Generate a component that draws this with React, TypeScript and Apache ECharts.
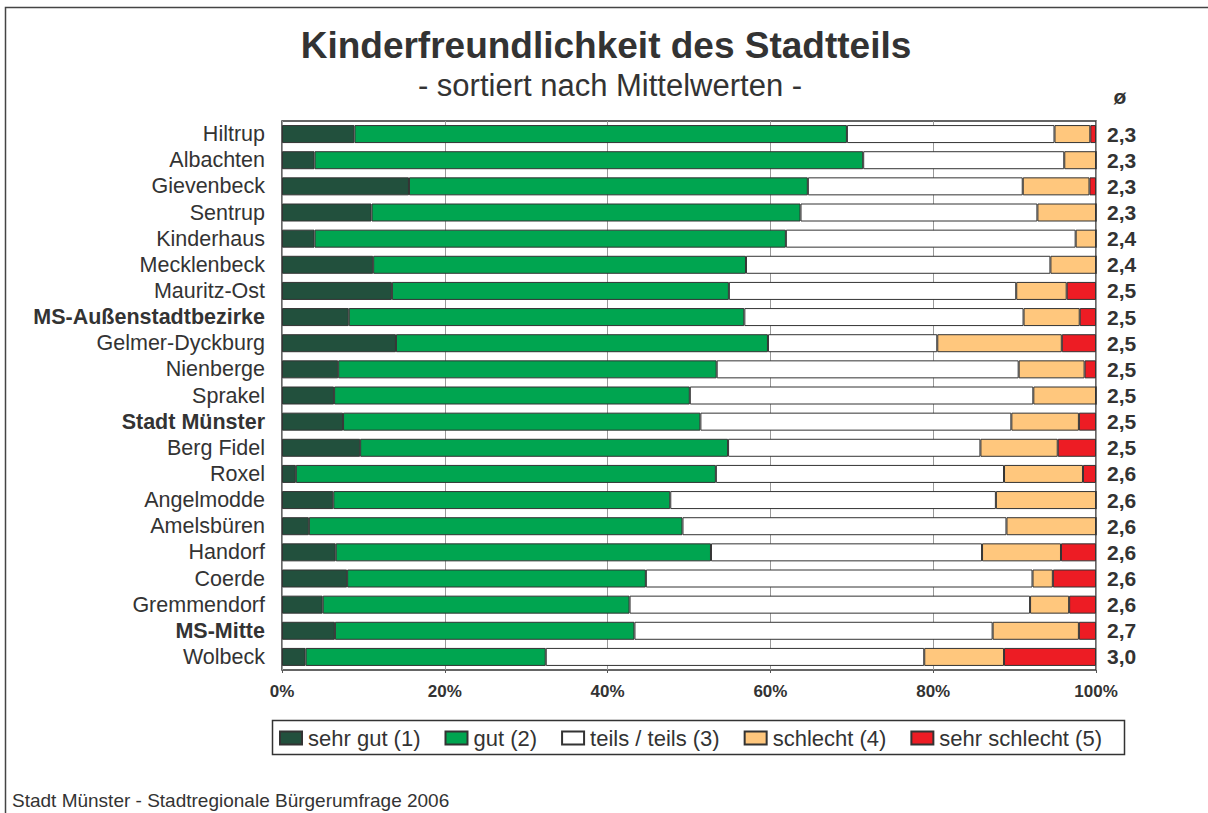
import React, { useEffect, useRef } from "react";
import * as echarts from "echarts";

const categories = [
  "Hiltrup", "Albachten", "Gievenbeck", "Sentrup", "Kinderhaus", "Mecklenbeck",
  "Mauritz-Ost", "MS-Außenstadtbezirke", "Gelmer-Dyckburg", "Nienberge", "Sprakel",
  "Stadt Münster", "Berg Fidel", "Roxel", "Angelmodde", "Amelsbüren", "Handorf",
  "Coerde", "Gremmendorf", "MS-Mitte", "Wolbeck",
];
const boldCategories = ["MS-Außenstadtbezirke", "Stadt Münster", "MS-Mitte"];

const sehrGut = [8.9, 4.0, 15.6, 11.0, 4.0, 11.2, 13.5, 8.2, 14.0, 6.9, 6.4, 7.5, 9.6, 1.7, 6.3, 3.3, 6.6, 8.0, 5.0, 6.5, 2.9];
const gut = [60.5, 67.4, 49.0, 52.7, 57.9, 45.8, 41.4, 48.6, 45.7, 46.5, 43.7, 43.9, 45.2, 51.6, 41.4, 45.9, 46.1, 36.7, 37.7, 36.8, 29.5];
const teils = [25.5, 24.7, 26.4, 29.1, 35.6, 37.4, 35.3, 34.3, 20.8, 37.1, 42.2, 38.2, 31.0, 35.4, 40.0, 39.8, 33.3, 47.5, 49.2, 44.0, 46.5];
const schlecht = [4.4, 3.9, 8.2, 7.2, 2.5, 5.6, 6.2, 6.9, 15.3, 8.1, 7.7, 8.3, 9.5, 9.7, 12.3, 11.0, 9.7, 2.5, 4.8, 10.6, 9.8];
const sehrSchlecht = [0.7, 0, 0.8, 0, 0, 0, 3.6, 2.0, 4.2, 1.4, 0, 2.1, 4.7, 1.6, 0, 0, 4.3, 5.3, 3.3, 2.1, 11.3];
const means = ["2,3", "2,3", "2,3", "2,3", "2,4", "2,4", "2,5", "2,5", "2,5", "2,5", "2,5", "2,5", "2,5", "2,6", "2,6", "2,6", "2,6", "2,6", "2,6", "2,7", "3,0"];

const seriesNames = ["sehr gut (1)", "gut (2)", "teils / teils (3)", "schlecht (4)", "sehr schlecht (5)"];
const seriesColors = ["#22503d", "#00a550", "#ffffff", "#ffc77d", "#ed1c24"];
const seriesData = [sehrGut, gut, teils, schlecht, sehrSchlecht];
const xTicks = [0, 20, 40, 60, 80, 100];

const FONT = "'Liberation Sans', Arial, Helvetica, sans-serif";
const TEXT = "#333333";

export default function App() {
  const ref = useRef<HTMLDivElement>(null);
  useEffect(() => {
    if (!ref.current) return;
    const chart = echarts.init(ref.current, undefined, { renderer: "svg" });
    const option: any = {
      animation: false,
      backgroundColor: "#ffffff",
      textStyle: { fontFamily: FONT, color: TEXT },
      grid: {
        left: 282, top: 121, width: 814, height: 549,
        show: true, borderColor: "#333", borderWidth: 1.5, backgroundColor: "#fff",
        containLabel: false,
      },
      xAxis: {
        type: "value", min: xTicks[0], max: xTicks[xTicks.length - 1], interval: 20,
        axisLine: { show: false },
        axisTick: { show: true, length: 3, lineStyle: { color: "#555" } },
        splitLine: { show: true, lineStyle: { color: "#999", width: 1 } },
        axisLabel: {
          formatter: "{value}%", fontSize: 17, fontWeight: "bold", color: TEXT,
          fontFamily: FONT, margin: 13,
        },
      },
      yAxis: [
        {
          type: "category", data: categories, inverse: true,
          axisLine: { show: false }, axisTick: { show: false },
          axisLabel: {
            interval: 0,
            fontSize: 21.5, color: TEXT, fontFamily: FONT, margin: 17,
            formatter: (v: string) => (boldCategories.includes(v) ? `{b|${v}}` : v),
            rich: { b: { fontWeight: "bold", fontSize: 21.5, color: TEXT, fontFamily: FONT } },
          },
        },
        {
          type: "category", data: means, inverse: true, position: "right",
          axisLine: { show: false }, axisTick: { show: false },
          axisLabel: { interval: 0, fontSize: 21, fontWeight: "bold", color: TEXT, fontFamily: FONT, margin: 11 },
        },
      ],
      legend: {
        left: 279, top: 727, itemWidth: 22, itemHeight: 13, itemGap: 24, padding: 0,
        icon: "rect",
        textStyle: { fontSize: 22, color: TEXT, fontFamily: FONT, padding: [0, 0, 0, 1] },
        data: seriesNames,
      },
      series: seriesNames.map((name, i) => ({
        name, type: "bar", stack: "total", barWidth: 18,
        data: seriesData[i],
        itemStyle: { color: seriesColors[i], borderColor: "#333", borderWidth: 1 },
        emphasis: { disabled: true },
      })),
      graphic: [
        { type: "polyline", shape: { points: [[5.5, 813], [5.5, 7.5], [1208, 7.5]] }, style: { stroke: "#444", fill: null, lineWidth: 1.5 } },
        { type: "text", x: 606, y: 45, style: { text: "Kinderfreundlichkeit des Stadtteils", font: `bold 37px ${FONT}`, fill: TEXT, textAlign: "center", textVerticalAlign: "middle" } },
        { type: "text", x: 610, y: 85, style: { text: "- sortiert nach Mittelwerten -", font: `31px ${FONT}`, fill: TEXT, textAlign: "center", textVerticalAlign: "middle" } },
        { type: "text", x: 1120, y: 96, style: { text: "ø", font: `bold 21px ${FONT}`, fill: TEXT, textAlign: "center", textVerticalAlign: "middle" } },
        { type: "rect", shape: { x: 272.5, y: 720.5, width: 852, height: 34 }, style: { stroke: "#333", fill: null, lineWidth: 1.5 } },
        { type: "text", x: 12, y: 800, style: { text: "Stadt Münster - Stadtregionale Bürgerumfrage 2006", font: `19px ${FONT}`, fill: TEXT, textAlign: "left", textVerticalAlign: "middle" } },
      ],
    };
    chart.setOption(option);
    return () => chart.dispose();
  }, []);
  return <div ref={ref} style={{ position: "fixed", left: 0, top: 0, width: 1208, height: 813 }} />;
}
